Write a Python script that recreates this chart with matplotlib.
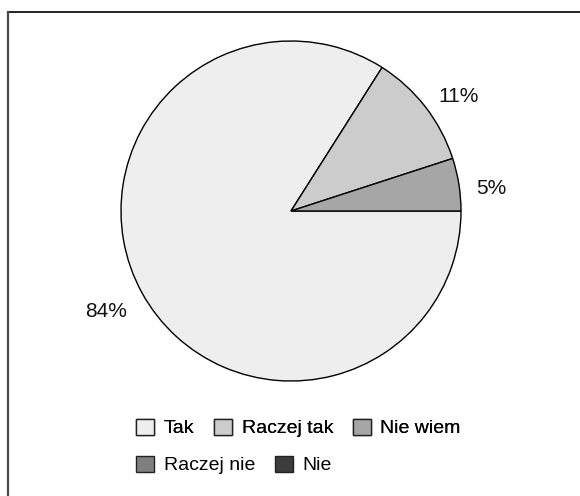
import matplotlib
matplotlib.use("Agg")
import matplotlib.pyplot as plt
from matplotlib.patches import Patch
from matplotlib.lines import Line2D

categories = ["Tak", "Raczej tak", "Nie wiem", "Raczej nie", "Nie"]
values = [84, 11, 5, 0, 0]
colors = ["#eeeeee", "#cccccc", "#a6a6a6", "#7f7f7f", "#3c3c3c"]
pct_labels = ["84%", "11%", "5%"]

plt.rcParams['font.family'] = ['Liberation Sans', 'DejaVu Sans']

W, H = 580, 496
fig = plt.figure(figsize=(W / 100, H / 100), dpi=100)

# frame (only top and left edges are visible in the crop)
fig.add_artist(Line2D([7.5 / W, 1.0], [1 - 12 / H, 1 - 12 / H], color="#111111", lw=1.3,
                      transform=fig.transFigure))
fig.add_artist(Line2D([7.5 / W, 7.5 / W], [1 - 12 / H, 0.0], color="#4a4a4a", lw=1.6,
                      transform=fig.transFigure))

cx, cy, r = 291, 211, 170
ax = fig.add_axes([(cx - r) / W, (H - cy - r) / H, 2 * r / W, 2 * r / H])

nz = [(c, v, col) for c, v, col in zip(categories, values, colors) if v > 0]
wedges, texts = ax.pie([v for _, v, _ in nz], colors=[col for _, _, col in nz],
                       startangle=0, counterclock=False, labels=pct_labels,
                       labeldistance=1.1,
                       wedgeprops=dict(edgecolor="black", linewidth=1.0),
                       textprops=dict(fontsize=15, color="#111111"))
# small vertical nudges to match the reference label placement
for t, dy in zip(texts, [-0.06, 0.0, -0.04]):
    x, y = t.get_position()
    t.set_position((x, y + dy))
ax.set_xlim(-1, 1)
ax.set_ylim(-1, 1)
ax.axis("off")

handles = [Patch(facecolor=c, edgecolor="#222222", linewidth=1.0) for c in colors]
common = dict(frameon=False, fontsize=14, handlelength=0.93, handleheight=0.93,
              handletextpad=0.5, columnspacing=1.0, borderpad=0, borderaxespad=0,
              loc="center left")
leg1 = fig.legend(handles[:3], categories[:3], ncol=3,
                  bbox_to_anchor=(136 / W, 1 - 428 / H), **common)
fig.add_artist(leg1)
leg2 = fig.legend(handles[3:], categories[3:], ncol=2,
                  bbox_to_anchor=(136 / W, 1 - 465 / H), **common)

fig.savefig("out.png", dpi=100)
